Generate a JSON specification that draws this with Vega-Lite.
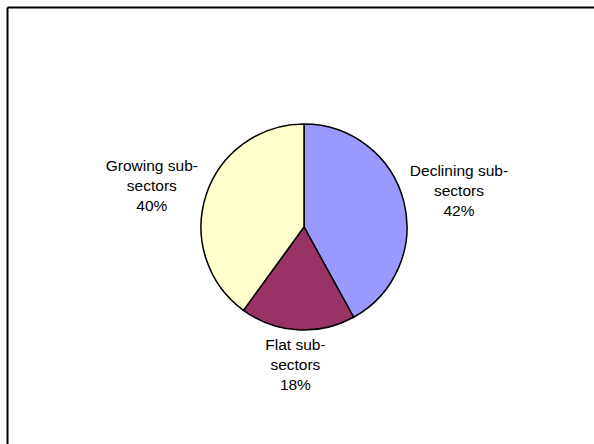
{
  "$schema": "https://vega.github.io/schema/vega-lite/v6.json",
  "width": 594,
  "height": 440,
  "autosize": {"type": "none"},
  "padding": {"left": 7, "top": 7, "right": -7, "bottom": -3},
  "background": "white",
  "view": {"stroke": null},
  "data": {
    "values": [
      {"category": "Declining sub-sectors", "value": 42, "label": "Declining sub-\nsectors\n42%"},
      {"category": "Flat sub-sectors", "value": 18, "label": "Flat sub-\nsectors\n18%"},
      {"category": "Growing sub-sectors", "value": 40, "label": "Growing sub-\nsectors\n40%"}
    ]
  },
  "layer": [
    {
      "mark": {"type": "point", "opacity": 0},
      "encoding": {
        "x": {"field": "value", "type": "quantitative", "axis": {"orient": "top", "domain": true, "domainColor": "black", "domainWidth": 2, "ticks": false, "labels": false, "title": null, "grid": false}},
        "y": {"field": "value", "type": "quantitative", "axis": {"orient": "left", "domain": true, "domainColor": "black", "domainWidth": 2, "ticks": false, "labels": false, "title": null, "grid": false}}
      }
    },
    {
      "mark": {"type": "arc", "radius": 103, "stroke": "black", "strokeWidth": 1.5},
      "encoding": {
        "theta": {"field": "value", "type": "quantitative", "stack": true},
        "order": {"field": "category", "type": "nominal"},
        "color": {
          "field": "category",
          "type": "nominal",
          "scale": {
            "domain": ["Declining sub-sectors", "Flat sub-sectors", "Growing sub-sectors"],
            "range": ["#9999FF", "#993366", "#FFFFCC"]
          },
          "legend": null
        }
      }
    },
    {
      "mark": {"type": "text", "radius": 160, "dy": -16.5, "font": "Liberation Sans", "fontSize": 15.5, "lineHeight": 20, "lineBreak": "\n", "align": "center", "baseline": "middle", "fill": "black"},
      "encoding": {
        "theta": {"field": "value", "type": "quantitative", "stack": true},
        "order": {"field": "category", "type": "nominal"},
        "text": {"condition": {"test": "datum.category === 'Declining sub-sectors'", "field": "label"}, "value": ""}
      }
    },
    {
      "mark": {"type": "text", "radius": 137, "dy": -18.7, "font": "Liberation Sans", "fontSize": 15.5, "lineHeight": 20, "lineBreak": "\n", "align": "center", "baseline": "middle", "fill": "black"},
      "encoding": {
        "theta": {"field": "value", "type": "quantitative", "stack": true},
        "order": {"field": "category", "type": "nominal"},
        "text": {"condition": {"test": "datum.category === 'Flat sub-sectors'", "field": "label"}, "value": ""}
      }
    },
    {
      "mark": {"type": "text", "radius": 160, "dy": -12, "font": "Liberation Sans", "fontSize": 15.5, "lineHeight": 20, "lineBreak": "\n", "align": "center", "baseline": "middle", "fill": "black"},
      "encoding": {
        "theta": {"field": "value", "type": "quantitative", "stack": true},
        "order": {"field": "category", "type": "nominal"},
        "text": {"condition": {"test": "datum.category === 'Growing sub-sectors'", "field": "label"}, "value": ""}
      }
    }
  ]
}
